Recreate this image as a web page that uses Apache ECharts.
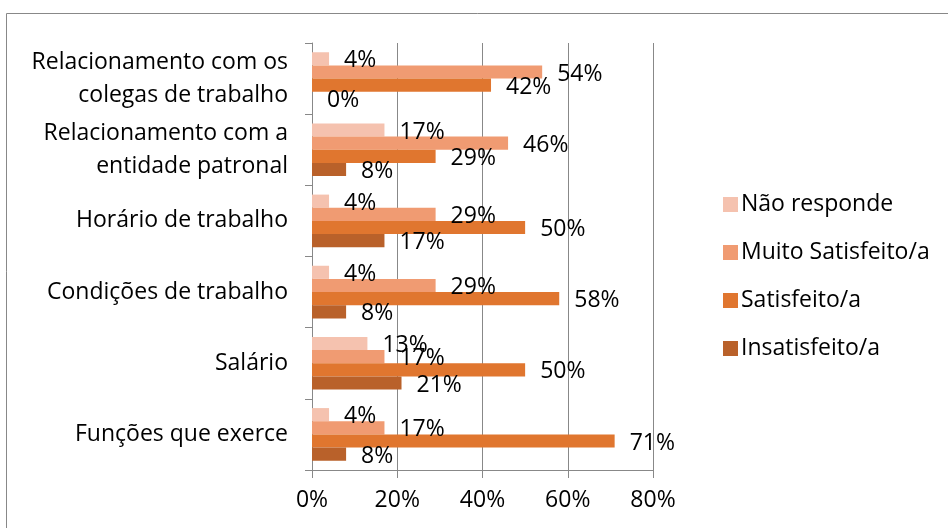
<!DOCTYPE html>
<html>
<head>
<meta charset="utf-8">
<script src="https://cdn.jsdelivr.net/npm/echarts@6/dist/echarts.min.js"></script>
<style>
  html, body { margin: 0; padding: 0; background: #fff; }
  #chart { width: 948px; height: 528px; }
</style>
</head>
<body>
<div id="chart"></div>
<script>
// categorias (de cima para baixo)
const categories = [
  'Relacionamento com os\ncolegas de trabalho',
  'Relacionamento com a\nentidade patronal',
  'Horário de trabalho',
  'Condições de trabalho',
  'Salário',
  'Funções que exerce'
]
const seriesNames = ['Não responde', 'Muito Satisfeito/a', 'Satisfeito/a', 'Insatisfeito/a']
const naoResponde = [4, 17, 4, 4, 13, 4]
const muitoSatisfeito = [54, 46, 29, 29, 17, 17]
const satisfeito = [42, 29, 50, 58, 50, 71]
const insatisfeito = [0, 8, 17, 8, 21, 8]
const xTicks = [0, 20, 40, 60, 80]

const colors = ['#F5C2AF', '#F09B72', '#E0762F', '#B9612A']
const font = '"Open Sans", "Noto Sans", sans-serif'
const fs = 23

const chart = echarts.init(document.getElementById('chart'))

const makeSeries = (name, data, color) => ({
  name: name,
  type: 'bar',
  data: data,
  barGap: '0%',
  barCategoryGap: '26%',
  itemStyle: { color: color },
  label: {
    show: true,
    position: 'right',
    distance: 15,
    offset: [0, 2],
    formatter: '{c}%',
    color: '#000',
    fontSize: fs,
    fontFamily: font
  }
})

chart.setOption({
  backgroundColor: '#fff',
  animation: false,
  graphic: [
    {
      type: 'rect',
      shape: { x: 6.5, y: 13.5, width: 960, height: 540 },
      style: { fill: 'none', stroke: '#888', lineWidth: 1 }
    }
  ],
  grid: {
    left: 312,
    right: 295,
    top: 43,
    bottom: 58
  },
  legend: {
    orient: 'vertical',
    left: 718,
    top: 188,
    itemWidth: 15,
    itemHeight: 15,
    itemGap: 25,
    icon: 'rect',
    data: seriesNames,
    textStyle: { color: '#000', fontSize: fs, fontFamily: font, padding: [0, 0, 0, -2] }
  },
  xAxis: {
    type: 'value',
    min: xTicks[0],
    max: xTicks[xTicks.length - 1],
    interval: 20,
    axisLine: { show: true, lineStyle: { color: '#888' } },
    axisTick: { show: true, length: 8, lineStyle: { color: '#888' } },
    splitLine: { show: true, lineStyle: { color: '#888' } },
    axisLabel: {
      formatter: '{value}%',
      color: '#000',
      fontSize: fs,
      fontFamily: font,
      margin: 19
    }
  },
  yAxis: {
    type: 'category',
    inverse: true,
    data: categories,
    axisLine: { show: true, lineStyle: { color: '#888' } },
    axisTick: { show: true, length: 7, lineStyle: { color: '#888' } },
    axisLabel: {
      color: '#000',
      fontSize: fs,
      fontFamily: font,
      lineHeight: 33,
      padding: [3, 0, 0, 0],
      margin: 24
    }
  },
  series: [
    makeSeries(seriesNames[0], naoResponde, colors[0]),
    makeSeries(seriesNames[1], muitoSatisfeito, colors[1]),
    makeSeries(seriesNames[2], satisfeito, colors[2]),
    makeSeries(seriesNames[3], insatisfeito, colors[3])
  ]
})
</script>
</body>
</html>
